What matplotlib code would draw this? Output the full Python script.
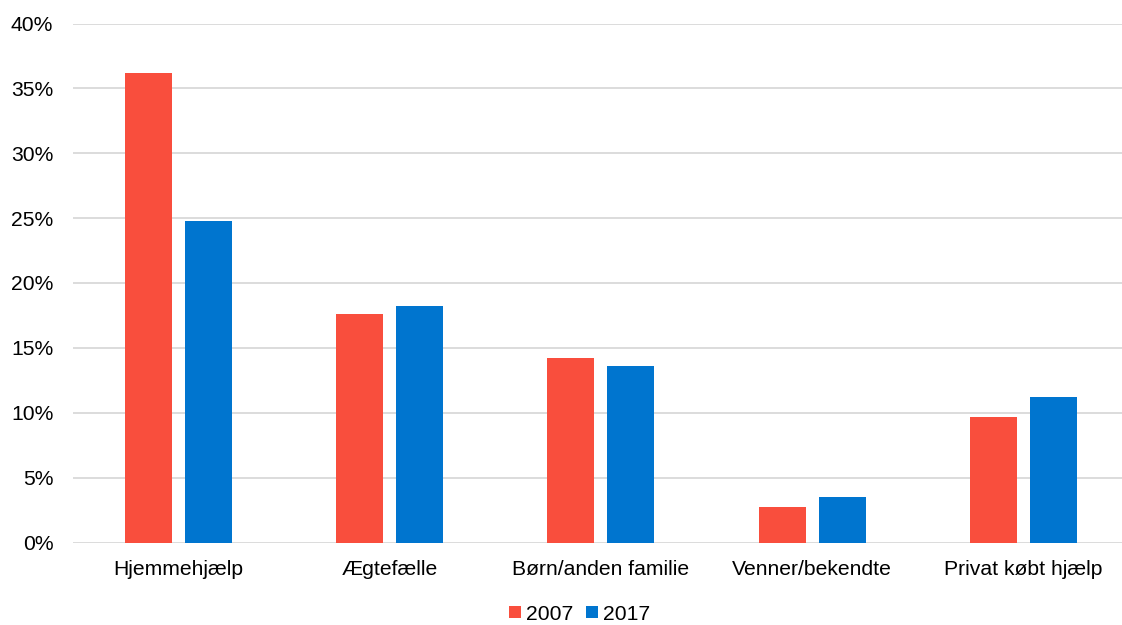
import numpy as np
import matplotlib.pyplot as plt
from matplotlib.ticker import PercentFormatter

plt.rcParams['font.family'] = ['Liberation Sans', 'DejaVu Sans']

categories = ["Hjemmehjælp", "Ægtefælle", "Børn/anden familie", "Venner/bekendte", "Privat købt hjælp"]
years = ["2007", "2017"]
values_2007 = [36.2, 17.6, 14.2, 2.7, 9.7]
values_2017 = [24.8, 18.2, 13.6, 3.5, 11.2]
colors = ["#F94E3D", "#0075CF"]

W, H = 1122, 625
fig = plt.figure(figsize=(W / 100, H / 100), dpi=100)
# plot area in pixels: left 72.7, right 1129, top 23.5, bottom 542.5
ax = fig.add_axes([72.7 / W, 1 - 542.5 / H, (1129 - 72.7) / W, (542.5 - 23.5) / H])

x = np.arange(len(categories))
bw = 0.222
off = 0.142
ax.bar(x - off, values_2007, bw, color=colors[0], label=years[0], zorder=3)
ax.bar(x + off, values_2017, bw, color=colors[1], label=years[1], zorder=3)

ax.set_xlim(-0.5, len(categories) - 0.5)
ax.set_ylim(0, 40)
ax.set_yticks(np.arange(0, 41, 5))
ax.yaxis.set_major_formatter(PercentFormatter(decimals=0))
ax.set_xticks(x)
ax.set_xticklabels(categories)
ax.grid(axis='y', color='#D9D9D9', linewidth=1.3, zorder=0)
for s in ax.spines.values():
    s.set_visible(False)
ax.tick_params(axis='both', length=0, labelsize=15.2, colors='#000000')
ax.tick_params(axis='y', pad=14)
ax.tick_params(axis='x', pad=12.5)

ax.legend(loc='center', bbox_to_anchor=(580 / W, 1 - 614 / H), bbox_transform=fig.transFigure,
          ncol=2, frameon=False, fontsize=15.2, handlelength=0.55, handleheight=0.55,
          handletextpad=0.25, columnspacing=0.6)

fig.savefig("out.png", dpi=100)
plt.close(fig)
